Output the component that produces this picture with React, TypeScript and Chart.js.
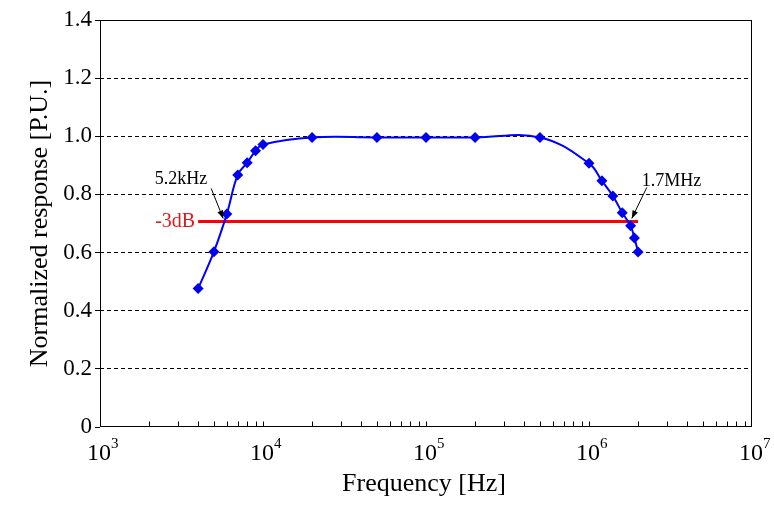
import React, { useEffect, useRef } from "react";
import { Chart, registerables } from "chart.js";

Chart.register(...registerables);

// ---- data ----
const frequencies = [4000, 5000, 6000, 7000, 8000, 9000, 10000, 20000, 50000, 100000, 200000, 500000, 1000000, 1200000, 1400000, 1600000, 1800000, 1900000, 2000000];
const response = [0.476, 0.603, 0.733, 0.867, 0.909, 0.95, 0.972, 0.996, 0.996, 0.996, 0.996, 0.996, 0.907, 0.847, 0.795, 0.737, 0.692, 0.65, 0.602];
const cutoffLevel = 0.707;
const cutoffRange = [4000, 2000000];
const cutoffLabel = "-3dB";
const yTickValues = [0, 0.2, 0.4, 0.6, 0.8, 1.0, 1.2, 1.4];
const xDecades = [3, 4, 5, 6, 7];
const xTitle = "Frequency [Hz]";
const yTitle = "Normalized response [P.U.]";
const markerLabels = ["5.2kHz", "1.7MHz"];
const markerFreqs = [5700, 1830000];

const SERIF = "'Liberation Serif', 'Times New Roman', serif";

const annotationStyle = [
  { tail: [-12, -30], label: [-16, -39], align: "right" as CanvasTextAlign },
  { tail: [15, -31], label: [10, -37], align: "left" as CanvasTextAlign },
];

const framePlugin = {
  id: "frameAndLabels",
  afterDraw(chart: any) {
    const { ctx, chartArea } = chart;
    const xs = chart.scales.x;
    const ys = chart.scales.y;
    const { left, right, top, bottom } = chartArea;
    ctx.save();
    // frame
    ctx.strokeStyle = "#000";
    ctx.lineWidth = 1;
    ctx.setLineDash([]);
    const L = Math.round(left) + 0.5, R = Math.round(right) - 0.5, T = Math.round(top) + 0.5, B = Math.round(bottom) - 0.5;
    ctx.strokeRect(L, T, R - L, B - T);
    // x minor/major ticks (inward)
    ctx.beginPath();
    for (let d = xDecades[0]; d < xDecades[xDecades.length - 1]; d++) {
      for (let m = 1; m <= 9; m++) {
        const v = m * Math.pow(10, d);
        const px = Math.round(xs.getPixelForValue(v)) + 0.5;
        ctx.moveTo(px, B);
        ctx.lineTo(px, B - 5);
      }
    }
    ctx.stroke();
    // x tick labels 10^n
    ctx.fillStyle = "#000";
    ctx.textBaseline = "alphabetic";
    for (const d of xDecades) {
      const px = xs.getPixelForValue(Math.pow(10, d));
      ctx.font = `24px ${SERIF}`;
      const w10 = ctx.measureText("10").width;
      ctx.textAlign = "left";
      const x0 = px - w10 / 2 - 1;
      const base = bottom + 33;
      ctx.fillText("10", x0, base);
      ctx.font = `15px ${SERIF}`;
      ctx.fillText(String(d), x0 + w10, base - 12);
    }
    // axis titles
    ctx.font = `26px ${SERIF}`;
    ctx.textAlign = "center";
    ctx.textBaseline = "middle";
    ctx.fillText(xTitle, (left + right) / 2 - 2, 484);
    ctx.save();
    ctx.translate(40, (top + bottom) / 2);
    ctx.rotate(-Math.PI / 2);
    ctx.fillText(yTitle, 0, 0);
    ctx.restore();
    // -3dB label
    const redX = xs.getPixelForValue(cutoffRange[0]);
    const redY = ys.getPixelForValue(cutoffLevel);
    ctx.font = `20px ${SERIF}`;
    ctx.fillStyle = "#e0191e";
    ctx.textAlign = "right";
    ctx.fillText(cutoffLabel, redX - 3, redY);
    // arrows and labels
    ctx.fillStyle = "#000";
    ctx.strokeStyle = "#000";
    ctx.font = `18px ${SERIF}`;
    markerFreqs.forEach((f, i) => {
      const st = annotationStyle[i];
      const tx = xs.getPixelForValue(f);
      const ty = ys.getPixelForValue(cutoffLevel) - 3;
      const sx = tx + st.tail[0];
      const sy = ty + st.tail[1];
      ctx.beginPath();
      ctx.lineWidth = 1;
      ctx.moveTo(sx, sy);
      ctx.lineTo(tx, ty);
      ctx.stroke();
      const ang = Math.atan2(ty - sy, tx - sx);
      const hl = 8, hw = 3;
      ctx.beginPath();
      ctx.moveTo(tx, ty);
      ctx.lineTo(tx - hl * Math.cos(ang) + hw * Math.sin(ang), ty - hl * Math.sin(ang) - hw * Math.cos(ang));
      ctx.lineTo(tx - hl * Math.cos(ang) - hw * Math.sin(ang), ty - hl * Math.sin(ang) + hw * Math.cos(ang));
      ctx.closePath();
      ctx.fill();
      ctx.textAlign = st.align;
      ctx.textBaseline = "middle";
      ctx.fillText(markerLabels[i], tx + st.label[0], ty + st.label[1]);
    });
    ctx.restore();
  },
};

export default function App() {
  const ref = useRef<HTMLCanvasElement>(null);
  useEffect(() => {
    if (!ref.current) return;
    const chart = new Chart(ref.current, {
      type: "line",
      data: {
        datasets: [
          {
            data: frequencies.map((f, i) => ({ x: f, y: response[i] })),
            borderColor: "#0000ff",
            backgroundColor: "#0000ee",
            borderWidth: 2,
            pointStyle: "rectRot",
            pointRadius: 5.5,
            pointBorderWidth: 0,
            tension: 0.4,
            order: 0,
          },
          {
            data: cutoffRange.map((f) => ({ x: f, y: cutoffLevel })),
            borderColor: "#ff0000",
            borderWidth: 3,
            pointRadius: 0,
            tension: 0,
            order: 1,
          },
        ],
      },
      options: {
        responsive: false,
        animation: false,
        devicePixelRatio: 1,
        layout: { padding: { left: 0, top: 20, right: 22, bottom: 0 } },
        plugins: { legend: { display: false }, tooltip: { enabled: false } },
        scales: {
          x: {
            type: "logarithmic",
            min: 1000,
            max: 10000000,
            ticks: { display: false },
            grid: { display: false },
            border: { display: false },
            afterFit: (s: any) => {
              s.height = 83;
            },
          },
          y: {
            min: 0,
            max: 1.4,
            afterBuildTicks: (s: any) => {
              s.ticks = yTickValues.map((v) => ({ value: v }));
            },
            afterFit: (s: any) => {
              s.width = 100;
            },
            ticks: {
              color: "#000",
              padding: 3,
              font: { family: SERIF, size: 23 },
              callback: (v: any) => (Number(v) === 0 ? "0" : Number(v).toFixed(1)),
            },
            grid: {
              color: (c: any) => {
                const v = c.tick ? c.tick.value : 0;
                return Math.abs(v) < 1e-6 || Math.abs(v - 1.4) < 1e-6 ? "rgba(0,0,0,0)" : "#000";
              },
              lineWidth: 1,
              drawTicks: true,
              tickLength: 5,
              tickColor: "#000",
            },
            border: { display: false, dash: [4, 3] },
          },
        },
      },
      plugins: [framePlugin],
    });
    return () => chart.destroy();
  }, []);
  return (
    <div style={{ position: "absolute", left: 0, top: 0, width: 774, height: 510, background: "#fff" }}>
      <canvas ref={ref} width={774} height={510} />
    </div>
  );
}
